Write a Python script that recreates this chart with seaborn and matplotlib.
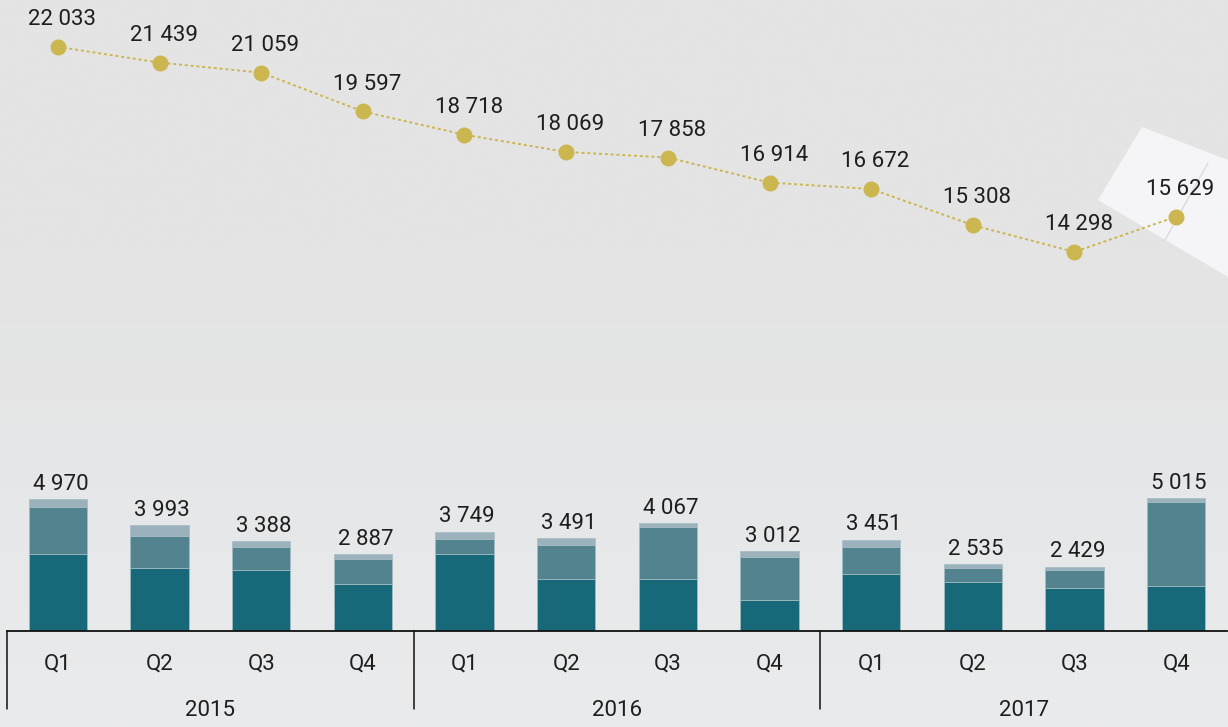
import numpy as np
import pandas as pd
import matplotlib
matplotlib.use("Agg")
import matplotlib.pyplot as plt
import matplotlib.transforms as mtransforms
from matplotlib.patches import Polygon
import seaborn as sns

# ---- data ----
years = ["2015", "2016", "2017"]
quarters = ["Q1", "Q2", "Q3", "Q4"]
periods = [f"{y} {q}" for y in years for q in quarters]
line_values = [22033, 21439, 21059, 19597, 18718, 18069, 17858, 16914, 16672, 15308, 14298, 15629]
bar_dark = [2894, 2384, 2311, 1766, 2919, 1955, 1965, 1170, 2162, 1855, 1605, 1707]
bar_mid = [1796, 1202, 860, 931, 536, 1271, 1950, 1637, 997, 538, 683, 3155]
bar_light = [280, 407, 217, 190, 294, 265, 152, 205, 292, 142, 141, 153]
bar_totals = [4970, 3993, 3388, 2887, 3749, 3491, 4067, 3012, 3451, 2535, 2429, 5015]

def fmt(v):
    return f"{v:,}".replace(",", " ")

sns.set_theme(style="white")
plt.rcParams["font.family"] = ["Roboto", "DejaVu Sans"]

W, H = 1228, 727
fig = plt.figure(figsize=(W / 100, H / 100), dpi=100)
fig.patch.set_facecolor("#e5e5e5")

# background gradient + decorative light shape
bg = fig.add_axes([0, 0, 1, 1], zorder=-10)
grad = np.linspace(0, 1, 256)[:, None]
cmap = matplotlib.colors.LinearSegmentedColormap.from_list(
    "bg", ["#e4e4e4", "#e4e4e4", "#e6e7e8", "#eaebed"])
bg.imshow(grad, aspect="auto", cmap=cmap, extent=[0, W, H, 0])
bg.add_patch(Polygon([(1142, 127), (1228, 160), (1228, 277), (1098, 200)],
                     closed=True, facecolor="#f7f8fa", edgecolor="none", alpha=0.9))
bg.plot([1208, 1165], [163, 240], color="#d9dbdd", linewidth=1)
bg.set_xlim(0, W)
bg.set_ylim(H, 0)
bg.set_axis_off()

ax = fig.add_axes([7 / W, (H - 631) / H, (1227 - 7) / W, 631 / H])
ax.set_facecolor("none")

df = pd.DataFrame({
    "period": periods,
    "dark": bar_dark,
    "mid": bar_mid,
    "light": bar_light,
})
df["c_mid"] = df["dark"] + df["mid"]
df["c_all"] = df["c_mid"] + df["light"]

dark_c = "#176878"
mid_c = "#52838f"
light_c = "#9bb2bc"
gold = "#cbb64f"
edge = "#a9c0c6"

bw = 0.575
sns.barplot(data=df, x="period", y="c_all", color=light_c, width=bw, ax=ax,
            saturation=1, edgecolor=edge, linewidth=0.6, order=periods)
sns.barplot(data=df, x="period", y="c_mid", color=mid_c, width=bw, ax=ax,
            saturation=1, edgecolor=edge, linewidth=0.6, order=periods)
sns.barplot(data=df, x="period", y="dark", color=dark_c, width=bw, ax=ax,
            saturation=1, edgecolor=edge, linewidth=0.6, order=periods)

ldf = pd.DataFrame({"pos": np.arange(len(periods)), "value": line_values})
sns.lineplot(data=ldf, x="pos", y="value", ax=ax, color=gold, linestyle=(0, (1.5, 1.5)),
             linewidth=1.4, marker="o", markersize=11.5, markeredgewidth=0,
             markerfacecolor=gold)

txt_c = "#1e1e1e"
fs = 16
fw = "normal"
for i, v in enumerate(line_values):
    ax.annotate(fmt(v), (i, v), xytext=(3, 12), textcoords="offset points",
                ha="center", va="bottom", fontsize=fs, color=txt_c, fontweight=fw)
for i, v in enumerate(bar_totals):
    ax.annotate(fmt(v), (i, v), xytext=(2, 3), textcoords="offset points",
                ha="center", va="bottom", fontsize=fs, color=txt_c, fontweight=fw)

ax.set_xlim(-0.5, 11.5)
ax.set_ylim(0, 23800)
ax.set_yticks([])
ax.set_xlabel("")
ax.set_ylabel("")
for s in ["top", "right", "left"]:
    ax.spines[s].set_visible(False)
ax.spines["bottom"].set_color("#111111")
ax.spines["bottom"].set_linewidth(1.3)

ax.set_xticks(np.arange(12))
ax.set_xticklabels(quarters * 3, fontsize=fs, color=txt_c, fontweight=fw)
ax.tick_params(axis="x", which="major", length=0, pad=16)
ax.set_xticks(np.arange(-0.5, 11.5, 1), minor=True)
ax.tick_params(axis="x", which="minor", length=5.5, width=1.2, color="#111111", direction="out")

trans = mtransforms.blended_transform_factory(ax.transData, ax.transAxes)
for b in [-0.5, 3.5, 7.5]:
    ax.axvline(b, ymin=-78 / 631, ymax=0, color="#111111", linewidth=1.1, clip_on=False)
for k, y in enumerate(years):
    ax.text(4 * k + 1.5, -79 / 631, y, transform=trans, ha="center", va="center",
            fontsize=fs, color=txt_c, fontweight=fw)

fig.savefig("out.png", dpi=100, facecolor=fig.get_facecolor())
